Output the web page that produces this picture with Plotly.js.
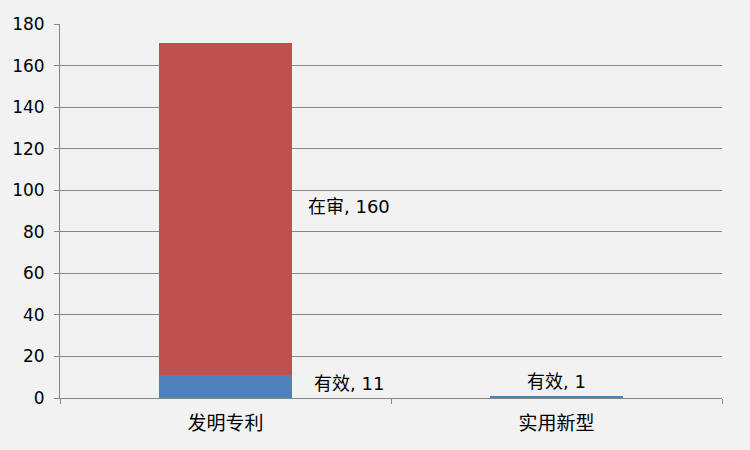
<!DOCTYPE html>
<html>
<head>
<meta charset="utf-8">
<script src="https://cdn.plot.ly/plotly-3.0.1.min.js"></script>
<style>
  html, body { margin: 0; padding: 0; background: #f2f2f2; }
  #chart { width: 750px; height: 450px; }
</style>
</head>
<body>
<div id="chart"></div>
<script>
const categories = ['发明专利', '实用新型']
const validName = '有效'
const pendingName = '在审'
const validValues = [11, 1]
const pendingValues = [160, 0]
const yTicks = [0, 20, 40, 60, 80, 100, 120, 140, 160, 180]

const font = '"DejaVu Sans", "Noto Sans CJK SC", sans-serif'

const traces = [
  {
    x: categories,
    y: validValues,
    type: 'bar',
    name: validName,
    marker: { color: '#4f81bd' },
    hoverinfo: 'none'
  },
  {
    x: categories,
    y: pendingValues,
    type: 'bar',
    name: pendingName,
    marker: { color: '#c0504d' },
    hoverinfo: 'none'
  }
]

// data labels, positioned from the data values
const annotations = []
categories.forEach((cat, i) => {
  if (pendingValues[i] > 0) {
    annotations.push({
      x: cat, y: validValues[i] + pendingValues[i] / 2,
      text: pendingName + ', ' + pendingValues[i],
      showarrow: false, xanchor: 'left', xshift: 80, yshift: 2
    })
    annotations.push({
      x: cat, y: validValues[i] / 2,
      text: validName + ', ' + validValues[i],
      showarrow: false, xanchor: 'left', xshift: 86, yshift: 3
    })
  } else {
    annotations.push({
      x: cat, y: validValues[i],
      text: validName + ', ' + validValues[i],
      showarrow: false, yanchor: 'bottom', yshift: 2
    })
  }
})

const layout = {
  width: 750,
  height: 450,
  margin: { l: 60, r: 28, t: 24, b: 52 },
  paper_bgcolor: '#f2f2f2',
  plot_bgcolor: '#f2f2f2',
  barmode: 'stack',
  bargap: 0.6,
  showlegend: false,
  font: { family: font, size: 18, color: '#000' },
  xaxis: {
    type: 'category',
    showline: true,
    linecolor: '#868686',
    linewidth: 1,
    ticks: 'outside',
    tickson: 'boundaries',
    ticklen: 5,
    tickcolor: '#868686',
    showgrid: false,
    ticklabelstandoff: 8,
    tickfont: { size: 19 }
  },
  yaxis: {
    range: [0, 180],
    tickvals: yTicks,
    showline: true,
    linecolor: '#868686',
    ticks: 'outside',
    ticklen: 5,
    tickcolor: '#868686',
    gridcolor: '#878787',
    zeroline: false,
    ticklabelstandoff: 6,
    tickfont: { size: 17 }
  },
  annotations: annotations.map(a => Object.assign({ font: { family: font, size: 18, color: '#000' } }, a))
}

Plotly.newPlot('chart', traces, layout, { displayModeBar: false, staticPlot: true })
</script>
</body>
</html>
